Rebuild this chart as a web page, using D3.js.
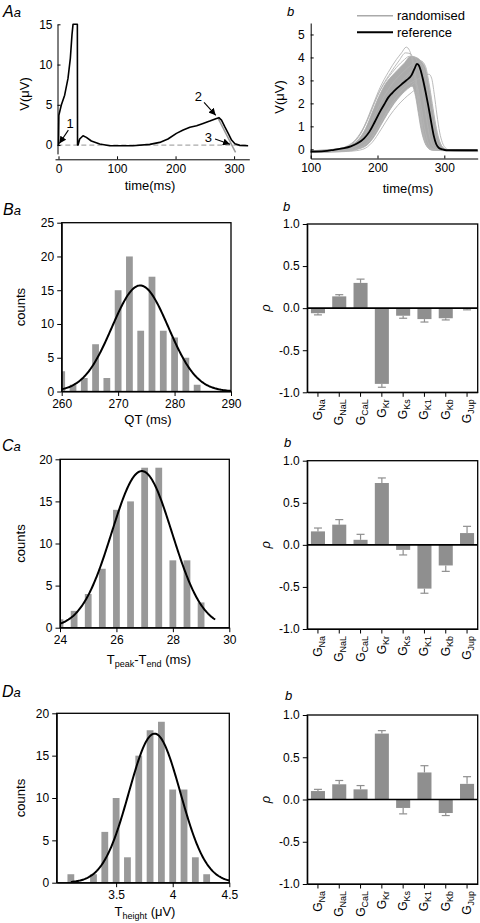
<!DOCTYPE html>
<html><head><meta charset="utf-8">
<script src="https://cdn.jsdelivr.net/npm/d3@7"></script>
<style>
body{margin:0;background:#fff}
svg{display:block}
text{font-family:"Liberation Sans",Arial,Helvetica,sans-serif;fill:#000}
</style>
</head><body>
<svg id="c" width="480" height="923"></svg>
<script>
// ================= DATA =================
// Panel Aa: reference ECG (time ms, V µV)
const aaTrace = [[0,0],[0.6,3.7],[2,4.14],[4.8,4.97],[10.5,6.2],[16.2,8.28],[20.2,10.77],[23,13.67],[24.8,15],[32.2,15],[32.5,0],[33.4,0],[36.2,0.75],[41.9,1.16],[47.6,0.95],[56.1,0.5],[70.4,0.12],[87.5,-0.08],[127,-0.08],[156,0.08],[173,0.33],[187,0.75],[201.5,1.45],[213,1.86],[224.5,2.2],[236,2.4],[247,2.69],[258.5,2.98],[270,3.31],[274,3.4],[278.5,3.1],[284,2.28],[290,1.45],[295.7,0.62],[301.4,0.17],[310,-0.04],[324,-0.08]];
const aaTangent = [[272.8,3.31],[302.5,-0.91]];
const aaZero = [[-2,0],[322,0]];
const aaXTicks = [0,100,200,300];
const aaYTicks = [0,5,10,15];
const aaMarks = [
  {label:"1", at:[19.7,2.7], from:[16.8,1.86], to:[1.4,0.2]},
  {label:"2", at:[239,6.0], from:[248.7,5.3], to:[268.7,3.7]},
  {label:"3", at:[256,0.9], from:[267.5,0.75], to:[293,0.09]}
];

// Panel Ab: reference + randomised T waves
const abRef = [[100,-0.1],[120,-0.08],[135,-0.02],[150,0.05],[160,0.13],[170,0.26],[180,0.48],[188,0.77],[196,1.2],[204,1.65],[210,1.95],[216,2.25],[222,2.45],[229,2.65],[236,2.83],[244,3.02],[251,3.23],[256,3.55],[259,3.72],[262,3.65],[265,3.4],[268,3.05],[272,2.5],[276,1.9],[280,1.25],[284,0.62],[288,0.22],[292,0.06],[297,0],[303,-0.04],[350,-0.04]];
const abBandUpper = [[100,-0.06],[140,0.02],[160,0.18],[172,0.45],[182,0.9],[192,1.6],[202,2.3],[212,2.85],[225,3.3],[240,3.75],[250,4.05],[258,4.0],[265,3.85],[272,3.5],[278,2.6],[284,1.5],[290,0.6],[296,0.15],[302,0],[310,-0.05],[350,-0.06]];
const abBandLower = [[100,-0.14],[150,-0.1],[170,0],[185,0.2],[195,0.55],[205,1.05],[215,1.55],[225,2.0],[235,2.35],[245,2.65],[252,2.75],[257,2.3],[261,1.6],[265,0.9],[270,0.35],[275,0.08],[282,-0.04],[350,-0.1]];
const abRandom = [
  [[100,-0.06],[140,0.02],[155,0.15],[168,0.45],[180,1.0],[192,1.85],[204,2.7],[216,3.35],[228,3.9],[236,4.2],[243,4.45],[248,4.3],[253,3.7],[258,2.7],[263,1.6],[268,0.7],[273,0.2],[280,0],[350,-0.05]],
  [[100,-0.07],[145,0.03],[160,0.2],[172,0.55],[184,1.2],[196,2.05],[208,2.8],[220,3.35],[232,3.85],[242,4.2],[250,4.15],[255,3.6],[260,2.6],[265,1.5],[270,0.6],[276,0.1],[285,-0.02],[350,-0.05]],
  [[100,-0.12],[150,-0.06],[170,0.05],[185,0.3],[200,0.9],[215,1.7],[230,2.35],[245,2.8],[260,3.05],[270,3.2],[277,3.27],[281,3.1],[285,2.4],[289,1.5],[293,0.75],[297,0.3],[301,0.08],[307,-0.02],[350,-0.05]],
  [[100,-0.13],[160,-0.08],[178,0],[192,0.3],[205,0.85],[218,1.45],[230,1.9],[240,2.2],[250,2.45],[255,2.55],[259,2.3],[263,1.6],[267,0.9],[271,0.35],[276,0.08],[283,-0.03],[350,-0.06]],
  [[100,-0.12],[155,-0.05],[175,0.08],[190,0.45],[203,1.05],[215,1.65],[228,2.15],[240,2.5],[250,2.75],[256,2.9],[260,2.7],[265,1.9],[270,1.0],[275,0.35],[281,0.05],[290,-0.03],[350,-0.06]],
  [[100,-0.1],[150,-0.02],[168,0.2],[182,0.7],[195,1.45],[208,2.2],[222,2.85],[238,3.35],[252,3.7],[265,3.85],[272,3.6],[277,2.9],[282,2.0],[287,1.1],[292,0.45],[297,0.1],[304,-0.02],[350,-0.05]],
  [[100,-0.08],[145,0],[162,0.25],[175,0.7],[188,1.5],[200,2.35],[212,2.95],[225,3.45],[238,3.85],[248,4.05],[256,4.0],[262,3.5],[267,2.6],[272,1.6],[277,0.7],[282,0.2],[290,0],[350,-0.05]],
  [[100,-0.11],[150,-0.04],[170,0.15],[184,0.55],[198,1.3],[212,2.0],[226,2.6],[240,3.1],[254,3.5],[263,3.75],[268,3.6],[273,2.9],[278,1.9],[283,0.95],[288,0.35],[294,0.06],[302,-0.03],[350,-0.05]]
];
const abXTicks = [100,200,300];
const abYTicks = [0,1,2,3,4,5];

// Histograms (bin centre, count) and Gaussian fit parameters (mean, sd, peak)
const qtBins   = [260,262,264,266,268,270,272,274,276,278,280,282,284];
const qtCounts = [3,1,2,7,2,15,20,9,17,9,8,5,1];
const qtFit    = {mean:273.9, sd:5.0, peak:15.7, from:260, to:290};
const tpBins   = [24,24.5,25,25.5,26,26.5,27,27.5,28,28.5,29];
const tpCounts = [1,2,4,7,14,15,19,19,8,8,3];
const tpFit    = {mean:26.9, sd:1.07, peak:18.6, from:24, to:29.5};
const thBins   = [3.1,3.2,3.3,3.4,3.5,3.6,3.7,3.8,3.9,4.0,4.1,4.2,4.3];
const thCounts = [1,0,1,6,10,3,15,18,19,11,11,3,1];
const thFit    = {mean:3.84, sd:0.227, peak:17.6, from:3.1, to:4.5};

// Correlation coefficients (value, error-bar end)
const conductances = ["Na","NaL","CaL","Kr","Ks","K1","Kb","Jup"];
const rhoQT    = [-0.06,0.14,0.30,-0.90,-0.09,-0.13,-0.12,-0.01];
const errQT    = [-0.08,0.16,0.345,-0.94,-0.12,-0.165,-0.14,-0.02];
const rhoTpe   = [0.16,0.24,0.06,0.735,-0.06,-0.52,-0.245,0.14];
const errTpe   = [0.20,0.30,0.125,0.795,-0.12,-0.575,-0.315,0.22];
const rhoTh    = [0.10,0.18,0.12,0.78,-0.10,0.32,-0.16,0.185];
const errTh    = [0.12,0.225,0.165,0.815,-0.17,0.40,-0.19,0.27];
const rhoTicks = [-1,-0.5,0,0.5,1];

// ================= DRAW =================
const svg = d3.select("#c");
const TICK_FS = 12, TITLE_FS = 13;
const plain = d => String(d);

function styleAxis(g){
  g.selectAll("path,line").attr("stroke","#000").attr("stroke-width",1);
  g.selectAll("text").attr("font-size",TICK_FS).attr("font-family",'"Liberation Sans",Arial,sans-serif').attr("fill","#000");
}
function panelLabel(x,y,big,small){
  const t = svg.append("text").attr("x",x).attr("y",y).attr("font-style","italic");
  if(big) t.append("tspan").text(big).attr("font-size",16);
  t.append("tspan").text(small).attr("font-size",13);
}
function rotLabel(x,y,txt,fs){
  return svg.append("text").attr("transform",`translate(${x},${y}) rotate(-90)`)
    .attr("text-anchor","middle").attr("font-size",fs||TITLE_FS).text(txt);
}

svg.append("defs").append("marker").attr("id","arr").attr("viewBox","0 0 10 10")
  .attr("refX",10).attr("refY",5).attr("markerWidth",7).attr("markerHeight",7)
  .attr("markerUnits","userSpaceOnUse").attr("orient","auto")
  .append("path").attr("d","M0,0L10,5L0,10z").attr("fill","#000");

// ---------- Aa
{
  const x = d3.scaleLinear().domain([-6,326]).range([55,249.3]);
  const y = d3.scaleLinear().domain([-1.1,15]).range([153.9,24.3]);
  const line = d3.line().x(d=>x(d[0])).y(d=>y(d[1]));
  svg.append("path").datum(aaZero).attr("d",line).attr("stroke","#aaa").attr("stroke-width",1.2).attr("stroke-dasharray","5,3").attr("fill","none");
  svg.append("path").datum(aaTangent).attr("d",line).attr("stroke","#999").attr("stroke-width",1.5).attr("fill","none");
  svg.append("path").datum(aaTrace).attr("d",line).attr("stroke","#000").attr("stroke-width",1.6).attr("fill","none").attr("stroke-linejoin","round");
  aaMarks.forEach(m=>{
    svg.append("line").attr("x1",x(m.from[0])).attr("y1",y(m.from[1])).attr("x2",x(m.to[0])).attr("y2",y(m.to[1]))
      .attr("stroke","#000").attr("stroke-width",1.1).attr("marker-end","url(#arr)");
    svg.append("text").attr("x",x(m.at[0])).attr("y",y(m.at[1])).attr("text-anchor","middle").attr("dy","0.35em").attr("font-size",13).text(m.label);
  });
  const gx = svg.append("g").attr("transform","translate(0,159.3)")
    .call(d3.axisBottom(x).tickValues(aaXTicks).tickFormat(plain).tickSizeInner(-3).tickSizeOuter(0).tickPadding(5));
  styleAxis(gx);
  const gy = svg.append("g").attr("transform","translate(57.5,0)")
    .call(d3.axisLeft(y).tickValues(aaYTicks).tickFormat(plain).tickSizeInner(-3).tickSizeOuter(0).tickPadding(5));
  styleAxis(gy);
  rotLabel(29,94,"V(μV)");
  svg.append("text").attr("x",150).attr("y",190).attr("text-anchor","middle").attr("font-size",TITLE_FS).text("time(ms)");
  panelLabel(3,17,"A","a");
}

// ---------- Ab
{
  const x = d3.scaleLinear().domain([100,350]).range([310.7,477.7]);
  const y = d3.scaleLinear().domain([-0.4,5.5]).range([158.5,23]);
  const line = d3.line().x(d=>x(d[0])).y(d=>y(d[1])).curve(d3.curveMonotoneX);
  const bandPath = line(abBandUpper) + "L" + line(abBandLower.slice().reverse()).slice(1) + "Z";
  svg.append("path").attr("d",bandPath).attr("fill","#ababab").attr("stroke","#ababab").attr("stroke-width",0.8);
  abRandom.forEach(tr=>{
    svg.append("path").datum(tr).attr("d",line).attr("stroke","#b3b3b3").attr("stroke-width",0.9).attr("fill","none");
  });
  svg.append("path").datum(abRef).attr("d",line).attr("stroke","#000").attr("stroke-width",1.8).attr("fill","none");
  const gx = svg.append("g").attr("transform","translate(0,158.5)")
    .call(d3.axisBottom(x).tickValues(abXTicks).tickFormat(plain).tickSizeInner(-3).tickSizeOuter(0).tickPadding(5));
  styleAxis(gx);
  const gy = svg.append("g").attr("transform","translate(310.7,0)")
    .call(d3.axisLeft(y).tickValues(abYTicks).tickFormat(plain).tickSizeInner(-3).tickSizeOuter(0).tickPadding(6));
  styleAxis(gy);
  rotLabel(283.5,97,"V(μV)");
  svg.append("text").attr("x",408).attr("y",193).attr("text-anchor","middle").attr("font-size",TITLE_FS).text("time(ms)");
  panelLabel(287,16,null,"b");
  const lg = [{t:"randomised",c:"#aaa",w:1.5,y:15.7},{t:"reference",c:"#000",w:2,y:32.3}];
  lg.forEach(d=>{
    svg.append("line").attr("x1",357).attr("x2",393).attr("y1",d.y).attr("y2",d.y).attr("stroke",d.c).attr("stroke-width",d.w);
    svg.append("text").attr("x",397).attr("y",d.y).attr("dy","0.35em").attr("font-size",13).text(d.t);
  });
}

// ---------- histograms
function histogram(o){
  const x = d3.scaleLinear().domain(o.xDomain).range([o.L,o.R]);
  const y = d3.scaleLinear().domain(o.yDomain).range([o.B,o.T]);
  const id = "clip"+o.id;
  svg.append("clipPath").attr("id",id).append("rect").attr("x",o.L).attr("y",o.T).attr("width",o.R-o.L).attr("height",o.B-o.T);
  const g = svg.append("g").attr("clip-path",`url(#${id})`);
  g.selectAll("rect.bar").data(o.bins.map((b,i)=>[b,o.counts[i]])).join("rect")
    .attr("x",d=>x(d[0]-o.barW/2)).attr("width",d=>x(d[0]+o.barW/2)-x(d[0]-o.barW/2))
    .attr("y",d=>y(d[1])).attr("height",d=>y(0)-y(d[1])).attr("fill","#999");
  const f = o.fit;
  const pts = d3.range(0,201).map(i=>{const v=f.from+(f.to-f.from)*i/200; return [v, f.peak*Math.exp(-0.5*((v-f.mean)/f.sd)**2)];});
  g.append("path").datum(pts).attr("d",d3.line().x(d=>x(d[0])).y(d=>y(d[1]))).attr("stroke","#000").attr("stroke-width",2).attr("fill","none");
  const gx = svg.append("g").attr("transform",`translate(0,${o.B})`)
    .call(d3.axisBottom(x).tickValues(o.xTicks).tickFormat(plain).tickSizeInner(4.5).tickSizeOuter(0).tickPadding(3));
  styleAxis(gx);
  const gy = svg.append("g").attr("transform",`translate(${o.L},0)`)
    .call(d3.axisLeft(y).tickValues(o.yTicks).tickFormat(plain).tickSizeInner(4.5).tickSizeOuter(0).tickPadding(3));
  styleAxis(gy);
  svg.append("rect").attr("x",o.L).attr("y",o.T).attr("width",o.R-o.L).attr("height",o.B-o.T).attr("fill","none").attr("stroke","#000").attr("stroke-width",1.3);
  rotLabel(o.ylx,(o.T+o.B)/2,"counts");
}
histogram({id:"B",xDomain:[260,290],yDomain:[0,25],L:61.7,R:231,T:222.7,B:391.5,bins:qtBins,counts:qtCounts,barW:1.2,fit:qtFit,xTicks:[260,270,280,290],yTicks:[0,5,10,15,20,25],ylx:25});
svg.append("text").attr("x",148).attr("y",424).attr("text-anchor","middle").attr("font-size",TITLE_FS).text("QT (ms)");
panelLabel(3,215,"B","a");

histogram({id:"C",xDomain:[24,30],yDomain:[0,20],L:60,R:229.3,T:459.3,B:627.7,bins:tpBins,counts:tpCounts,barW:0.24,fit:tpFit,xTicks:[24,26,28,30],yTicks:[0,5,10,15,20],ylx:25});
{
  const t = svg.append("text").attr("x",149).attr("y",664).attr("text-anchor","middle").attr("font-size",TITLE_FS);
  t.append("tspan").text("T");
  t.append("tspan").text("peak").attr("font-size",9).attr("dy",3);
  t.append("tspan").text("-T").attr("dy",-3);
  t.append("tspan").text("end").attr("font-size",9).attr("dy",3);
  t.append("tspan").text(" (ms)").attr("dy",-3);
}
panelLabel(2,451,"C","a");

histogram({id:"D",xDomain:[2.975,4.5],yDomain:[0,20],L:56.7,R:229.3,T:713.3,B:882.7,bins:thBins,counts:thCounts,barW:0.06,fit:thFit,xTicks:[3.5,4,4.5],yTicks:[0,5,10,15,20],ylx:25});
{
  const t = svg.append("text").attr("x",145).attr("y",916).attr("text-anchor","middle").attr("font-size",TITLE_FS);
  t.append("tspan").text("T");
  t.append("tspan").text("height").attr("font-size",9).attr("dy",3);
  t.append("tspan").text(" (μV)").attr("dy",-3);
}
panelLabel(2,697,"D","a");

// ---------- correlation bar charts
function rhoBars(o){
  const x = d3.scaleBand().domain(conductances).range([307.3,477.7]).paddingInner(0.34).paddingOuter(0.17);
  const y = d3.scaleLinear().domain([-1,1]).range([o.B,o.T]);
  const data = conductances.map((c,i)=>({c,v:o.vals[i],e:o.errs[i]}));
  svg.selectAll(null).data(data).join("rect")
    .attr("x",d=>x(d.c)).attr("width",x.bandwidth())
    .attr("y",d=>y(Math.max(0,d.v))).attr("height",d=>Math.abs(y(d.v)-y(0)))
    .attr("fill","#8f8f8f");
  const eg = svg.append("g").attr("stroke","#8f8f8f").attr("stroke-width",1.2);
  data.forEach(d=>{
    const cx = x(d.c)+x.bandwidth()/2;
    eg.append("line").attr("x1",cx).attr("x2",cx).attr("y1",y(d.v)).attr("y2",y(d.e));
    eg.append("line").attr("x1",cx-4).attr("x2",cx+4).attr("y1",y(d.e)).attr("y2",y(d.e));
  });
  svg.append("line").attr("x1",307.3).attr("x2",477.7).attr("y1",y(0)).attr("y2",y(0)).attr("stroke","#000").attr("stroke-width",1.6);
  const gy = svg.append("g").attr("transform","translate(307.3,0)")
    .call(d3.axisLeft(y).tickValues(rhoTicks).tickFormat(d=>d3.format(".1f")(d).replace("−","-")).tickSizeInner(4.5).tickSizeOuter(0).tickPadding(3));
  styleAxis(gy);
  const gx = svg.append("g").attr("transform",`translate(0,${o.B})`)
    .call(d3.axisBottom(x).tickSizeInner(4.5).tickSizeOuter(0).tickFormat(""));
  styleAxis(gx);
  conductances.forEach(c=>{
    const cx = x(c)+x.bandwidth()/2;
    const t = svg.append("text").attr("transform",`translate(${cx+4},${o.B+7}) rotate(-90)`).attr("text-anchor","end").attr("font-size",TICK_FS);
    t.append("tspan").text("G");
    t.append("tspan").text(c).attr("font-size",9).attr("dy",3);
  });
  svg.append("rect").attr("x",307.3).attr("y",o.T).attr("width",170.4).attr("height",o.B-o.T).attr("fill","none").attr("stroke","#000").attr("stroke-width",1.3);
  svg.append("text").attr("transform",`translate(270,${(o.T+o.B)/2}) rotate(-90)`).attr("text-anchor","middle").attr("font-size",13).attr("font-style","italic").text("ρ");
  panelLabel(o.lx,o.ly,null,"b");
}
rhoBars({T:224,B:392.3,vals:rhoQT,errs:errQT,lx:283,ly:211});
rhoBars({T:460.7,B:629,vals:rhoTpe,errs:errTpe,lx:284,ly:447});
rhoBars({T:715,B:884,vals:rhoTh,errs:errTh,lx:285,ly:700});
</script>
</body></html>
